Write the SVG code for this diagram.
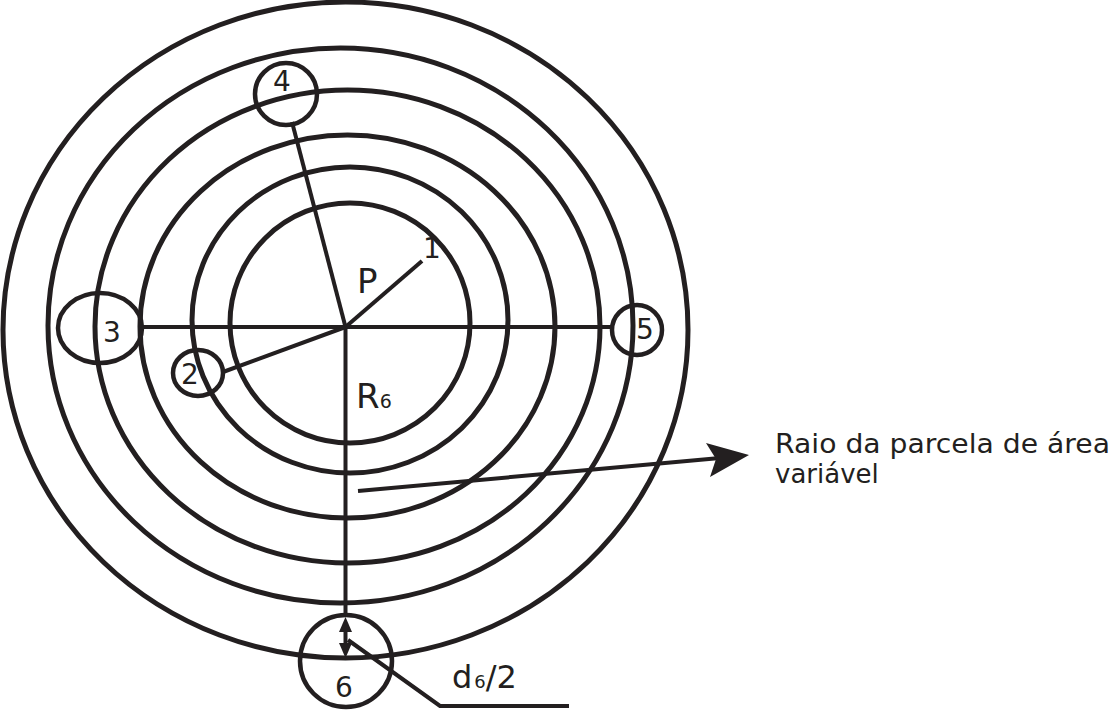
<svg xmlns="http://www.w3.org/2000/svg" width="1113" height="710" viewBox="0 0 1113 710">
<style>
.ring{fill:none;stroke:#231f20;stroke-width:5}
.sub{fill:none;stroke:#231f20;stroke-width:4.5}
.ln{fill:none;stroke:#231f20;stroke-width:4}
.head{fill:#231f20}
.t{font-family:"DejaVu Sans",sans-serif;fill:#231f20}
.num{font-size:28px;text-anchor:middle}
</style>
<rect width="1113" height="710" fill="#fff"/>
<g id="rings">
<ellipse id="ring1" class="ring" cx="345.5" cy="330" rx="342.5" ry="328"/>
<ellipse id="ring2" class="ring" cx="340.5" cy="325.5" rx="292.5" ry="277.5"/>
<ellipse id="ring3" class="ring" cx="347.5" cy="326.5" rx="252.5" ry="236.5"/>
<ellipse id="ring4" class="ring" cx="347.5" cy="326.5" rx="207.5" ry="191.5"/>
<ellipse id="ring5" class="ring" cx="350" cy="320" rx="158" ry="153"/>
<ellipse id="ring6" class="ring" cx="350" cy="323" rx="120" ry="120"/>
</g>
<g id="connectors">
<line class="ln" x1="142" y1="327" x2="612" y2="327"/>
<line class="ln" x1="345.5" y1="327" x2="345.5" y2="616"/>
<line class="ln" x1="345.5" y1="327" x2="292" y2="122"/>
<line class="ln" x1="345.5" y1="327" x2="223" y2="372"/>
<line class="ln" x1="345.5" y1="327" x2="422" y2="261"/>
<line class="ln" x1="345.5" y1="626" x2="345.5" y2="650"/>
<path class="head" d="M345.5,617 L352,632 L339,632 Z"/>
<path class="head" d="M345.5,658 L352,643 L339,643 Z"/>
<polyline class="ln" points="348,640 440,706 569,706"/>
<line class="ln" x1="358" y1="491" x2="720" y2="458"/>
<path class="head" d="M749,455 L706,443 L716,459 L710,477 Z"/>
</g>
<g id="node4">
<ellipse class="sub" cx="286" cy="94" rx="31" ry="31"/>
<text class="t num" x="282" y="91">4</text>
</g>
<g id="node3">
<ellipse class="sub" cx="100" cy="328" rx="42" ry="35"/>
<text class="t num" x="112" y="342">3</text>
</g>
<g id="node5">
<ellipse class="sub" cx="637" cy="330" rx="25" ry="25"/>
<text class="t num" x="645" y="339">5</text>
</g>
<g id="node2">
<ellipse class="sub" cx="198" cy="373" rx="25" ry="23"/>
<text class="t num" x="190" y="384">2</text>
</g>
<g id="node6">
<ellipse class="sub" cx="346" cy="661" rx="46" ry="46"/>
<text class="t num" x="344" y="697">6</text>
</g>
<g id="node1">
<text class="t num" x="432" y="258">1</text>
</g>
<g id="labelP">
<text class="t" x="357" y="293" font-size="34">P</text>
</g>
<g id="labelR6">
<text class="t" x="356" y="408" font-size="34">R<tspan font-size="19">6</tspan></text>
</g>
<g id="labelD6">
<text class="t" x="452" y="688" font-size="32">d<tspan font-size="18" dx="2">6</tspan>/2</text>
</g>
<g id="labelRaio">
<text class="t" x="775" y="453" font-size="26" textLength="335" lengthAdjust="spacingAndGlyphs">Raio da parcela de área</text>
<text class="t" x="775" y="483" font-size="26">variável</text>
</g>
</svg>
